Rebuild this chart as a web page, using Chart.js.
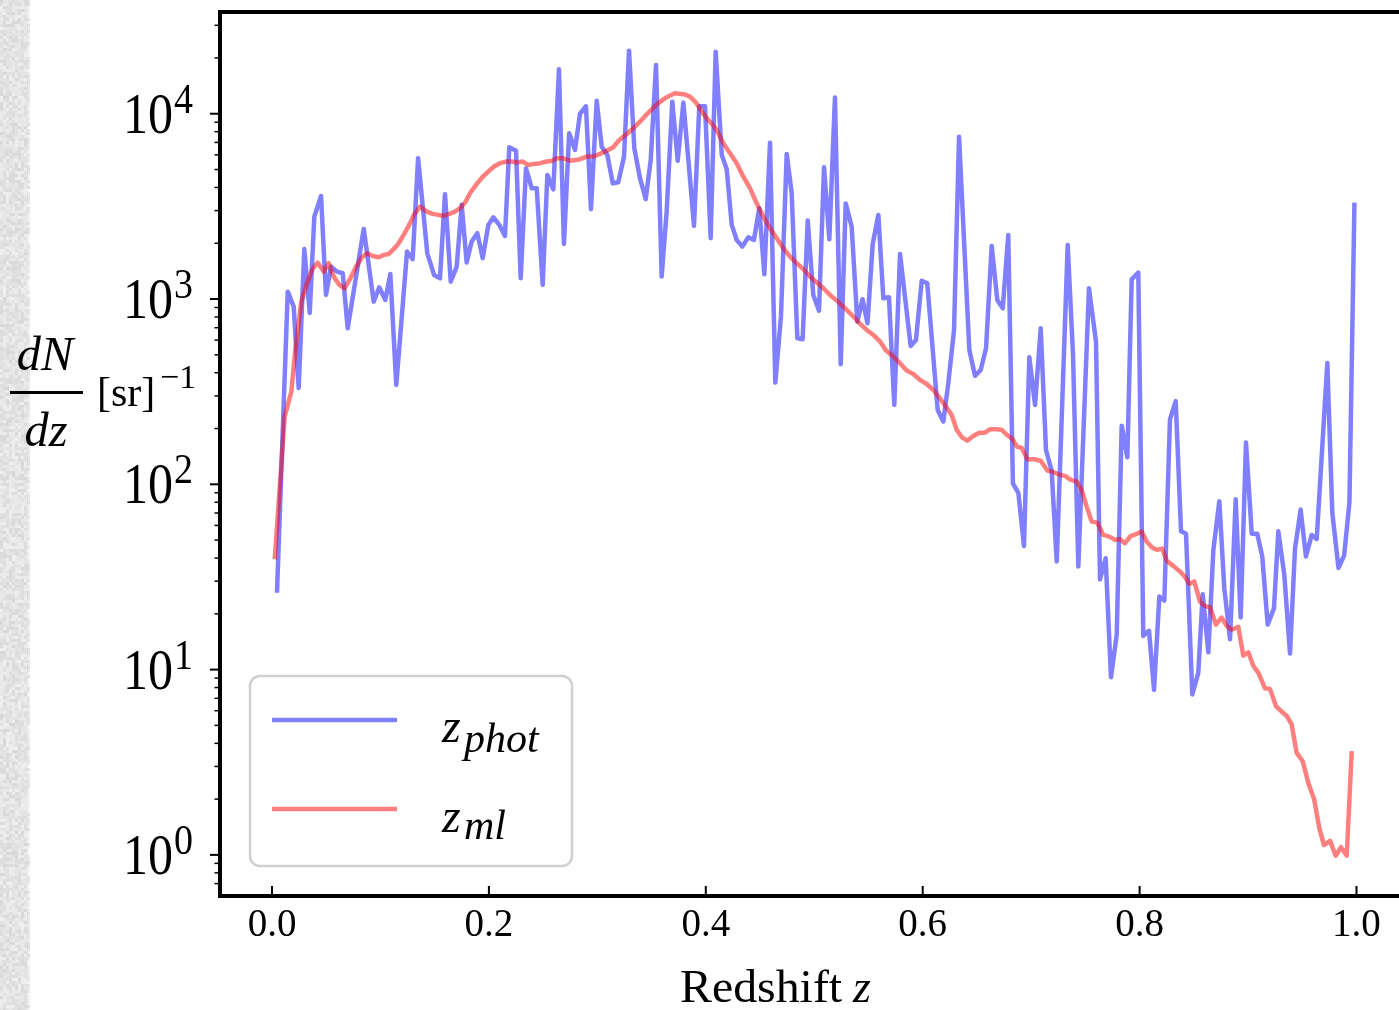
<!DOCTYPE html>
<html>
<head>
<meta charset="utf-8">
<script src="https://cdn.jsdelivr.net/npm/chart.js@4.4.1/dist/chart.umd.min.js"></script>
<style>
  html, body { margin: 0; padding: 0; background: #ffffff; }
  #wrap { position: relative; width: 1399px; height: 1010px; }
  canvas { display: block; }
</style>
</head>
<body>
<div id="wrap"><canvas id="c" width="1399" height="1010"></canvas></div>
<script>
// ---- data ----
const zPhot = [0.0046,0.0145,0.0200,0.0246,0.0298,0.0348,0.0390,0.0452,0.0498,0.0544,0.0599,0.0652,0.0698,0.0846,0.0938,0.0989,0.1045,0.1091,0.1146,0.1245,0.1297,0.1347,0.1432,0.1494,0.1549,0.1595,0.1648,0.1703,0.1749,0.1795,0.1841,0.1893,0.1943,0.1995,0.2041,0.2096,0.2148,0.2188,0.2250,0.2293,0.2342,0.2395,0.2441,0.2496,0.2539,0.2594,0.2646,0.2692,0.2740,0.2794,0.2840,0.2895,0.2941,0.2994,0.3040,0.3092,0.3142,0.3193,0.3246,0.3292,0.3341,0.3393,0.3446,0.3492,0.3541,0.3593,0.3639,0.3691,0.3741,0.3793,0.3842,0.3891,0.3940,0.3993,0.4045,0.4091,0.4147,0.4193,0.4239,0.4285,0.4337,0.4392,0.4444,0.4493,0.4540,0.4592,0.4641,0.4693,0.4746,0.4792,0.4844,0.4893,0.4940,0.4991,0.5044,0.5090,0.5139,0.5191,0.5244,0.5290,0.5345,0.5397,0.5445,0.5491,0.5539,0.5591,0.5637,0.5689,0.5738,0.5791,0.5889,0.5938,0.5991,0.6042,0.6138,0.6190,0.6236,0.6289,0.6335,0.6430,0.6482,0.6535,0.6584,0.6636,0.6688,0.6738,0.6789,0.6832,0.6882,0.6934,0.6983,0.7036,0.7088,0.7137,0.7189,0.7236,0.7337,0.7386,0.7435,0.7533,0.7598,0.7635,0.7687,0.7736,0.7789,0.7835,0.7887,0.7927,0.7988,0.8034,0.8087,0.8133,0.8182,0.8228,0.8280,0.8333,0.8382,0.8428,0.8486,0.8541,0.8582,0.8634,0.8680,0.8735,0.8781,0.8834,0.8886,0.8932,0.8981,0.9034,0.9085,0.9131,0.9181,0.9239,0.9279,0.9334,0.9387,0.9433,0.9485,0.9534,0.9587,0.9633,0.9731,0.9777,0.9834,0.9886,0.9935,0.9981];
const nPhot = [26,1096,910,331,1860,841,2785,3600,1052,1497,1406,1378,695,2390,968,1157,989,1365,344,1803,1640,5750,1765,1349,1294,3681,1241,1497,3223,1573,2042,2265,1660,2513,2762,2513,2188,6600,6322,1294,5070,3956,3956,1191,4677,3900,17380,1983,7840,6380,10000,10970,3052,11750,6640,5996,4216,4266,5870,21900,6510,4487,3457,5630,18330,1321,2960,11620,5575,11480,5400,2480,10970,10970,2130,21600,5996,5010,2513,2084,1918,2154,2084,3090,1359,6980,354,803,6070,3724,614,607,2650,1052,865,5140,2100,12220,445,3281,2460,755,997,740,1983,2844,1009,1023,268,1750,558,601,1256,1216,252,218,351,681,7520,531,385,414,542,1935,989,891,2218,101,90,46.5,485,268,695,153,118.6,38.3,1959,500,36,1143,589,30.7,39.9,9.1,15.4,207,140,1277,1390,15.2,16.2,7.77,24.8,23.6,224,281,55.8,54.1,7.35,9.6,25.5,12.4,44.1,81,27.5,14.6,83,19.1,168,54.1,54.1,40.8,17.5,21.4,55.8,32.6,12.2,45,73,40.8,53.3,50.6,451,70,35.4,41.3,80,3313];

const zMl = [0.0025,0.0117,0.0178,0.0215,0.0270,0.0323,0.0369,0.0421,0.0477,0.0523,0.0569,0.0621,0.0670,0.0722,0.0777,0.0830,0.0876,0.0929,0.0984,0.1030,0.1076,0.1122,0.1168,0.1214,0.1260,0.1309,0.1365,0.1426,0.1482,0.1533,0.1580,0.1635,0.1687,0.1734,0.1780,0.1826,0.1888,0.1943,0.1994,0.2047,0.2102,0.2164,0.2210,0.2256,0.2312,0.2363,0.2416,0.2471,0.2533,0.2579,0.2625,0.2686,0.2748,0.2834,0.2902,0.2963,0.3024,0.3086,0.3147,0.3202,0.3271,0.3331,0.3393,0.3449,0.3501,0.3562,0.3633,0.3716,0.3808,0.3854,0.3910,0.3953,0.4008,0.4064,0.4100,0.4161,0.4223,0.4285,0.4346,0.4408,0.4469,0.4530,0.4592,0.4654,0.4715,0.4776,0.4838,0.4899,0.4961,0.5023,0.5084,0.5145,0.5207,0.5268,0.5330,0.5391,0.5422,0.5484,0.5545,0.5607,0.5662,0.5729,0.5791,0.5852,0.5913,0.5975,0.6037,0.6098,0.6159,0.6215,0.6267,0.6313,0.6360,0.6411,0.6467,0.6522,0.6574,0.6620,0.6676,0.6728,0.6775,0.6830,0.6867,0.6913,0.6965,0.7026,0.7088,0.7149,0.7199,0.7260,0.7312,0.7365,0.7420,0.7466,0.7512,0.7558,0.7610,0.7665,0.7721,0.7773,0.7819,0.7865,0.7918,0.7973,0.8019,0.8065,0.8112,0.8158,0.8207,0.8250,0.8311,0.8373,0.8419,0.8458,0.8504,0.8557,0.8603,0.8649,0.8704,0.8757,0.8803,0.8849,0.8910,0.8956,0.9002,0.9048,0.9095,0.9156,0.9202,0.9258,0.9310,0.9356,0.9402,0.9448,0.9504,0.9556,0.9608,0.9657,0.9700,0.9756,0.9808,0.9857,0.9910,0.9956];
const nMl = [39.4,232,316,531,968,1216,1435,1570,1406,1560,1321,1191,1143,1294,1497,1680,1765,1708,1680,1730,1750,1857,2000,2218,2480,2850,3150,2965,2880,2844,2806,2880,2965,3090,3313,3724,4180,4571,4870,5190,5410,5520,5520,5450,5520,5290,5360,5410,5520,5560,5750,5750,5580,5665,5870,5870,6070,6320,6590,7220,7780,8340,9060,9840,10560,11400,12220,12890,12710,12360,11480,10480,9460,8710,8180,6930,6120,5410,4571,3956,3289,2785,2410,2130,1880,1693,1560,1449,1321,1227,1143,1052,980,910,838,771,734,681,640,589,527,489,450,411,394,366,348,323,291,262,237,197,180,172,182.5,190,190,198,198,197,185,175,160,157,136.6,136.6,134,118.6,117,112.5,111,105.6,103.4,93.3,75.8,62.9,62.1,53.3,52.2,50.1,50.6,48.1,52.6,54,55.6,49.1,45.8,44.3,45,38.7,36.3,33.8,31.6,29,29.9,23.2,22,21.7,17.5,19.1,17.2,16.4,17.0,11.9,12.4,10.5,9.6,7.94,7.87,6.35,5.93,5.63,5.06,3.55,3.2,2.44,2.01,1.4,1.13,1.19,0.99,1.10,0.99,3.63];

const seriesLabels = ['phot', 'ml'];
const xTickValues = [0.0, 0.2, 0.4, 0.6, 0.8, 1.0];
const xTickLabels = ['0.0', '0.2', '0.4', '0.6', '0.8', '1.0'];
const yDecades = [0, 1, 2, 3, 4];

const X_MIN = -0.04795, X_MAX = 1.03919;
const Y_MIN = 0.6005, Y_MAX = 35400;

const SERIF = '"Liberation Serif", "DejaVu Serif", serif';

function txt(ctx, s, x, y, font, align, sx, sy) {
  ctx.save();
  ctx.font = font;
  ctx.textAlign = align || 'left';
  ctx.textBaseline = 'alphabetic';
  ctx.fillStyle = '#000';
  ctx.translate(x, y);
  ctx.scale(sx || 1, sy || 1);
  ctx.fillText(s, 0, 0);
  ctx.restore();
}

const decor = {
  id: 'decor',
  beforeDraw(chart) {
    const ctx = chart.ctx;
    ctx.save();
    ctx.fillStyle = '#ffffff';
    ctx.fillRect(0, 0, chart.width, chart.height);
    // soft textured strip on the left edge
    ctx.fillStyle = '#e2e2e2';
    ctx.fillRect(0, 0, 28, chart.height);
    for (let j = 0; j < chart.height; j += 3) {
      for (let i = 0; i < 28; i += 3) {
        const h = Math.sin(i * 12.9898 + j * 78.233) * 43758.5453;
        const f = h - Math.floor(h);
        const g = Math.round(212 + f * 34);
        ctx.fillStyle = 'rgba(' + g + ',' + g + ',' + g + ',0.7)';
        ctx.fillRect(i, j, 3, 3);
      }
    }
    ctx.restore();
  },
  afterDatasetsDraw(chart) {
    const ctx = chart.ctx;
    const xs = chart.scales.x, ys = chart.scales.y;
    const a = chart.chartArea;
    ctx.save();
    // frame (left, top, bottom)
    ctx.strokeStyle = '#000';
    ctx.lineWidth = 4;
    ctx.lineJoin = 'miter';
    ctx.beginPath();
    ctx.moveTo(chart.width + 5, a.top);
    ctx.lineTo(a.left, a.top);
    ctx.lineTo(a.left, a.bottom);
    ctx.lineTo(chart.width + 5, a.bottom);
    ctx.stroke();

    // y ticks (log)
    for (let e = -1; e <= 4; e++) {
      for (let m = 1; m <= 9; m++) {
        const v = m * Math.pow(10, e);
        if (v < Y_MIN || v > Y_MAX) continue;
        const py = ys.getPixelForValue(v);
        ctx.beginPath();
        if (m === 1) { ctx.lineWidth = 2; ctx.moveTo(a.left, py); ctx.lineTo(a.left - 10, py); }
        else { ctx.lineWidth = 1.5; ctx.moveTo(a.left, py); ctx.lineTo(a.left - 5.5, py); }
        ctx.stroke();
      }
    }
    // y tick labels 10^n
    yDecades.forEach(e => {
      const py = ys.getPixelForValue(Math.pow(10, e));
      txt(ctx, '10', 173, py + 19, '50px ' + SERIF, 'right', 1, 1.13);
      txt(ctx, String(e), 174, py - 1, '38px ' + SERIF, 'left', 1, 1.13);
    });

    // x ticks (pointing inward) and labels
    xTickValues.forEach((v, i) => {
      const px = xs.getPixelForValue(v);
      ctx.lineWidth = 2;
      ctx.beginPath();
      ctx.moveTo(px, a.bottom);
      ctx.lineTo(px, a.bottom - 10);
      ctx.stroke();
      txt(ctx, xTickLabels[i], px, 936, '39px ' + SERIF, 'center');
    });

    // x axis title
    txt(ctx, 'Redshift', 680, 1002, '46px ' + SERIF, 'left', 1.04, 1.0);
    txt(ctx, 'z', 853, 1002, 'italic 46px ' + SERIF, 'left');

    // y axis title: dN/dz [sr]^-1
    txt(ctx, 'dN', 45, 370, 'italic 46px ' + SERIF, 'center', 1.05, 1.05);
    ctx.lineWidth = 3;
    ctx.beginPath();
    ctx.moveTo(10, 392.5);
    ctx.lineTo(83, 392.5);
    ctx.stroke();
    txt(ctx, 'dz', 46, 446, 'italic 46px ' + SERIF, 'center', 1.05, 1.05);
    txt(ctx, '[sr]', 97, 406, '42px ' + SERIF, 'left');
    txt(ctx, '\u22121', 160, 388, '34px ' + SERIF, 'left');

    // legend
    const lx = 250, ly = 676, lw = 322, lh = 190, r = 10;
    ctx.beginPath();
    ctx.moveTo(lx + r, ly);
    ctx.arcTo(lx + lw, ly, lx + lw, ly + lh, r);
    ctx.arcTo(lx + lw, ly + lh, lx, ly + lh, r);
    ctx.arcTo(lx, ly + lh, lx, ly, r);
    ctx.arcTo(lx, ly, lx + lw, ly, r);
    ctx.closePath();
    ctx.fillStyle = 'rgba(255,255,255,0.8)';
    ctx.fill();
    ctx.strokeStyle = '#d0d0d0';
    ctx.lineWidth = 2.5;
    ctx.stroke();

    const ds = chart.data.datasets;
    const rows = [{ y: 720, tb: 742, sb: 752 }, { y: 809, tb: 832, sb: 839 }];
    rows.forEach((row, k) => {
      ctx.strokeStyle = ds[k].borderColor;
      ctx.lineWidth = 4.5;
      ctx.lineCap = 'butt';
      ctx.beginPath();
      ctx.moveTo(272, row.y);
      ctx.lineTo(397, row.y);
      ctx.stroke();
      txt(ctx, 'z', 442, row.tb, 'italic 48px ' + SERIF, 'left');
      txt(ctx, seriesLabels[k], 464, row.sb, 'italic 42px ' + SERIF, 'left');
    });
    ctx.restore();
  }
};

new Chart(document.getElementById('c'), {
  type: 'line',
  data: {
    datasets: [
      {
        label: 'z_phot',
        data: zPhot.map((z, i) => ({ x: z, y: nPhot[i] })),
        borderColor: 'rgba(0,0,255,0.5)',
        borderWidth: 4.5,
        borderJoinStyle: 'round',
        pointRadius: 0,
        tension: 0,
        fill: false,
        order: 2
      },
      {
        label: 'z_ml',
        data: zMl.map((z, i) => ({ x: z, y: nMl[i] })),
        borderColor: 'rgba(255,0,0,0.5)',
        borderWidth: 4.5,
        borderJoinStyle: 'round',
        pointRadius: 0,
        tension: 0,
        fill: false,
        order: 1
      }
    ]
  },
  options: {
    responsive: false,
    animation: false,
    devicePixelRatio: 1,
    layout: { padding: { left: 220, top: 12, right: 0, bottom: 114 } },
    plugins: { legend: { display: false }, tooltip: { enabled: false }, title: { display: false } },
    scales: {
      x: { type: 'linear', min: X_MIN, max: X_MAX, display: false },
      y: { type: 'logarithmic', min: Y_MIN, max: Y_MAX, display: false }
    }
  },
  plugins: [decor]
});
</script>
</body>
</html>
